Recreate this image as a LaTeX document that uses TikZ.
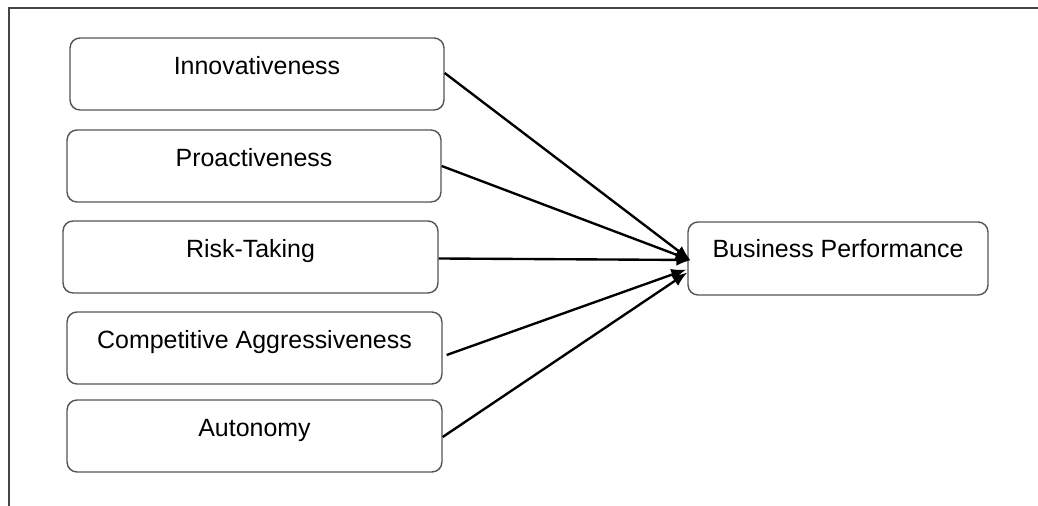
\documentclass[tikz,border=0pt]{standalone}
\usepackage{fontspec}
\setmainfont{Liberation Sans}
\usepackage{tikz}
\usetikzlibrary{arrows.meta,positioning,calc}
\definecolor{boxline}{HTML}{555555}
\definecolor{frameline}{HTML}{444444}
\tikzset{
	block/.style = {draw=boxline, line width=0.8pt, fill=white, rectangle, rounded corners=0.2cm,
		minimum width=7.48cm, minimum height=1.44cm, inner ysep=0.38cm,
		text height=0.36cm, text depth=0.32cm, font=\fontsize{14.2}{17}\selectfont},
	result/.style = {block, minimum width=6cm, minimum height=1.46cm, inner ysep=0.36cm,
		text depth=0.38cm},
	link/.style = {-{Latex[length=0.3cm,width=0.24cm]}, line width=1.35pt}
}

\begin{document}
\begin{tikzpicture}[x=0.02cm,y=-0.02cm]
		\useasboundingbox (0,0) rectangle (1038,506);
		% frame
		\draw [frameline, line width=0.8pt] (1038,8) -- (9,8) -- (9,506);

		\node [block] (inno) at (257,74) {Innovativeness};
		\node [block] (proa) at (254,166) {Proactiveness};
		\node [block, minimum width=7.5cm] (risk) at (250.5,257) {Risk-Taking};
		\node [block, minimum width=7.5cm] (comp) at (254.5,348) {Competitive Aggressiveness};
		\node [block, minimum width=7.5cm] (auto) at (254.5,436) {Autonomy};
		\node [result] (perf) at (838,258.5) {Business Performance};

		\draw [link] ([yshift=0.02cm]inno.east) -- ([xshift=0.06cm,yshift=-0.03cm]perf.west);
		\draw [link] (proa.east) -- ([xshift=0.06cm,yshift=-0.03cm]perf.west);
		\draw [link] ([yshift=-0.03cm]risk.east) -- ([xshift=0.08cm,yshift=-0.03cm]perf.west);
		\draw [link] ([xshift=0.08cm,yshift=-0.14cm]comp.east) -- ([xshift=-0.02cm,yshift=-0.22cm]perf.west);
		\draw [link] ([yshift=-0.02cm]auto.east) -- ([xshift=0cm,yshift=-0.28cm]perf.west);
	\end{tikzpicture}
\end{document}
